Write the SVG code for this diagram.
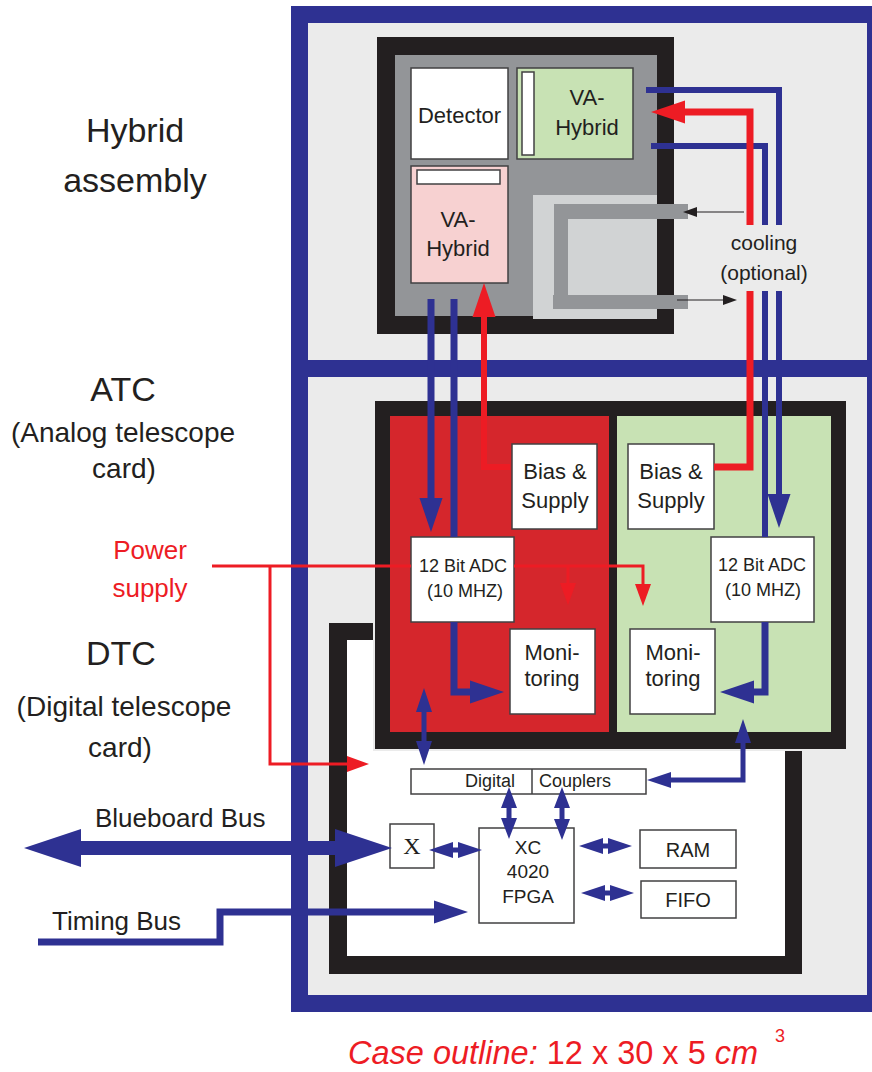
<svg xmlns="http://www.w3.org/2000/svg" width="872" height="1072" viewBox="0 0 872 1072">
<style>
text{font-family:"Liberation Sans",Arial,sans-serif;fill:#231f20}
.lbl{font-size:28px}
.big{font-size:34px}
.n{font-size:22px;text-anchor:middle}
.s{font-size:18px;text-anchor:middle}
.box{fill:#fff;stroke:#414042;stroke-width:1.5}
.blk{fill:#231f20}
.bl{fill:none;stroke:#2e3192;stroke-linejoin:miter}
.rd{fill:none;stroke:#ed1c24;stroke-linejoin:miter}
.bf{fill:#2e3192}
.red{fill:#ed1c24}
</style>
<defs>
<marker id="hb" markerUnits="userSpaceOnUse" orient="auto" refX="0" refY="11.5" markerWidth="34" markerHeight="23" overflow="visible"><path d="M0,0 L34,11.5 L0,23 z" fill="#2e3192"/></marker>
<marker id="hr" markerUnits="userSpaceOnUse" orient="auto" refX="0" refY="11.5" markerWidth="34" markerHeight="23" overflow="visible"><path d="M0,0 L34,11.5 L0,23 z" fill="#ed1c24"/></marker>
<marker id="hrs" markerUnits="userSpaceOnUse" orient="auto" refX="0" refY="8" markerWidth="22" markerHeight="16" overflow="visible"><path d="M0,0 L22,8 L0,16 z" fill="#ed1c24"/></marker>
<marker id="hbs" markerUnits="userSpaceOnUse" orient="auto" refX="0" refY="8" markerWidth="24" markerHeight="16" overflow="visible"><path d="M0,0 L24,8 L0,16 z" fill="#2e3192"/></marker>
<marker id="hk" markerUnits="userSpaceOnUse" orient="auto" refX="0" refY="5" markerWidth="14" markerHeight="10" overflow="visible"><path d="M0,0 L14,5 L0,10 z" fill="#231f20"/></marker>
</defs>
<rect width="872" height="1072" fill="#fff"/>

<g id="case">
<rect x="291" y="6" width="600" height="1006" fill="#2e3192"/>
<rect x="308" y="23" width="559" height="972" fill="#ebebeb"/>
<rect x="291" y="360" width="600" height="17" fill="#2e3192"/>
</g>

<g id="labels">
<text class="big" x="135" y="142" text-anchor="middle" font-size="36">Hybrid</text>
<text class="big" x="135" y="192" text-anchor="middle" font-size="36">assembly</text>
<text class="big" x="123" y="401" text-anchor="middle">ATC</text>
<text class="lbl" x="123" y="442" text-anchor="middle">(Analog telescope</text>
<text class="lbl" x="124" y="478" text-anchor="middle">card)</text>
<text class="big" x="121" y="665" text-anchor="middle">DTC</text>
<text class="lbl" x="124" y="716" text-anchor="middle">(Digital telescope</text>
<text class="lbl" x="120" y="757" text-anchor="middle">card)</text>
<text x="150" y="559" text-anchor="middle" font-size="26" class="red">Power</text>
<text x="150" y="597" text-anchor="middle" font-size="26" class="red">supply</text>
<text x="95" y="827" font-size="26">Blueboard Bus</text>
<text x="52" y="930" font-size="26">Timing Bus</text>
<text x="348" y="1064" font-size="32.5" class="red"><tspan font-style="italic">Case outline:</tspan> 12 x 30 x 5 <tspan font-style="italic">cm</tspan></text>
<text x="780" y="1042" font-size="18" text-anchor="middle" class="red">3</text>
</g>

<g id="hybrid-assembly">
<rect x="377" y="37" width="297" height="297" class="blk"/>
<rect x="395" y="55" width="262" height="261" fill="#939598"/>
</g>

<g id="cooling">
<rect x="533" y="195" width="124" height="124" fill="#d1d3d4"/>
<rect x="554" y="204" width="134" height="15" fill="#939598"/>
<rect x="554" y="204" width="14" height="105" fill="#939598"/>
<rect x="553" y="295" width="135" height="14" fill="#939598"/>
<text x="764" y="250" font-size="21" text-anchor="middle">cooling</text>
<text x="764" y="280" font-size="21" text-anchor="middle">(optional)</text>
</g>

<g id="detector">
<rect x="411" y="68" width="97" height="91" class="box"/>
<text class="n" x="459.5" y="123">Detector</text>
</g>

<g id="va-hybrid-top">
<rect x="517" y="68" width="116" height="91" class="box" style="fill:#c8e2b4"/>
<rect x="522" y="72" width="12" height="83" class="box"/>
<text class="n" x="587" y="105">VA-</text>
<text class="n" x="587" y="135">Hybrid</text>
</g>

<g id="va-hybrid-bottom">
<rect x="411" y="166" width="97" height="117" class="box" style="fill:#f7d1d1"/>
<rect x="417" y="170" width="83" height="14" class="box"/>
<text class="n" x="458" y="227">VA-</text>
<text class="n" x="458" y="256">Hybrid</text>
</g>

<g id="dtc-frame">
<rect x="329" y="623" width="473" height="351" class="blk"/>
<rect x="347" y="640" width="438" height="316" fill="#fff"/>
</g>

<g id="atc-frame">
<rect x="374" y="400" width="473" height="350" class="blk" stroke="#ebebeb" stroke-width="2"/>
<rect x="390" y="416" width="219" height="316" fill="#d5262c"/>
<rect x="617" y="416" width="214" height="316" fill="#c8e2b4"/>
</g>

<g id="bias-left">
<rect x="512" y="444" width="85" height="85" class="box"/>
<text class="n" x="555" y="479">Bias &amp;</text>
<text class="n" x="555" y="508">Supply</text>
</g>
<g id="adc-left">
<rect x="411" y="537" width="103" height="85" class="box"/>
<text class="s" x="463" y="572">12 Bit ADC</text>
<text class="s" x="465" y="597">(10 MHZ)</text>
</g>
<g id="monitoring-left">
<rect x="510" y="629" width="85" height="85" class="box"/>
<text class="n" x="552" y="660">Moni-</text>
<text class="n" x="552" y="686">toring</text>
</g>
<g id="bias-right">
<rect x="628" y="444" width="86" height="85" class="box"/>
<text class="n" x="671" y="479">Bias &amp;</text>
<text class="n" x="671" y="508">Supply</text>
</g>
<g id="adc-right">
<rect x="711" y="537" width="103" height="85" class="box"/>
<text class="s" x="762" y="571">12 Bit ADC</text>
<text class="s" x="763" y="596">(10 MHZ)</text>
</g>
<g id="monitoring-right">
<rect x="630" y="629" width="85" height="85" class="box"/>
<text class="n" x="673" y="660">Moni-</text>
<text class="n" x="673" y="686">toring</text>
</g>

<g id="digital-couplers">
<rect x="411" y="769" width="235" height="25" class="box"/>
<line x1="532" y1="769" x2="532" y2="794" stroke="#414042" stroke-width="1.5"/>
<text x="490" y="787" font-size="18" text-anchor="middle">Digital</text>
<text x="575" y="787" font-size="18" text-anchor="middle">Couplers</text>
</g>
<g id="x-switch">
<rect x="390" y="824" width="44" height="44" class="box"/>
<text x="412" y="854" font-size="24" text-anchor="middle" style="font-family:'Liberation Serif',serif">X</text>
</g>
<g id="fpga">
<rect x="479" y="828" width="95" height="95" class="box"/>
<text x="528" y="854" font-size="19" text-anchor="middle">XC</text>
<text x="528" y="878" font-size="19" text-anchor="middle">4020</text>
<text x="528" y="903" font-size="19" text-anchor="middle">FPGA</text>
</g>
<g id="ram">
<rect x="640" y="830" width="96" height="38" class="box"/>
<text x="688" y="857" font-size="20" text-anchor="middle">RAM</text>
</g>
<g id="fifo">
<rect x="641" y="881" width="95" height="37" class="box"/>
<text x="688" y="907" font-size="20" text-anchor="middle">FIFO</text>
</g>

<g id="connectors">
<polyline class="bl" stroke-width="6" points="646,90 779,90 779,225"/>
<polyline class="bl" stroke-width="6" points="779,291 779,494" marker-end="url(#hb)"/>
<polyline class="bl" stroke-width="6" points="651,146 765,146 765,225"/>
<polyline class="bl" stroke-width="6" points="765,291 765,537"/>
<polyline class="bl" stroke-width="7" points="765,622 765,692 754,692" marker-end="url(#hb)"/>
<polyline class="rd" stroke-width="7" points="714,467 750,467 750,291"/>
<polyline class="rd" stroke-width="7" points="750,225 750,112 685,112" marker-end="url(#hr)"/>
<line x1="744" y1="212" x2="697" y2="212" stroke="#231f20" stroke-width="1.2" marker-end="url(#hk)"/>
<line x1="677" y1="300" x2="723" y2="300" stroke="#231f20" stroke-width="1.2" marker-end="url(#hk)"/>
<polyline class="bl" stroke-width="7" points="431,299 431,498" marker-end="url(#hb)"/>
<polyline class="bl" stroke-width="7" points="454,299 454,537"/>
<polyline class="bl" stroke-width="7" points="454,622 454,692 470,692" marker-end="url(#hb)"/>
<polyline class="rd" stroke-width="6" points="510,467 484,467 484,317" marker-end="url(#hr)"/>
<polyline class="rd" stroke-width="3" points="212,566 411,566"/>
<polyline class="rd" stroke-width="3" points="514,566 643,566 643,584" marker-end="url(#hrs)"/>
<polyline class="rd" stroke-width="3" points="568,566 568,583" marker-end="url(#hrs)"/>
<polyline class="rd" stroke-width="3" points="270,566 270,764 347,764" marker-end="url(#hrs)"/>
<polygon class="bf" points="424,688 432,712 426.5,712 426.5,741 432,741 424,765 416,741 421.5,741 421.5,712 416,712"/>
<polyline class="bl" stroke-width="5" points="743,742 743,780 671,780" marker-end="url(#hbs)"/>
<polygon class="bf" points="743,719 751,743 735,743"/>
<polygon class="bf" points="509,787 517,808 511.5,808 511.5,818 517,818 509,839 501,818 506.5,818 506.5,808 501,808"/>
<polygon class="bf" points="562,787 570,808 564.5,808 564.5,819 570,819 562,840 554,819 559.5,819 559.5,808 554,808"/>
<polygon class="bf" points="429,850 453,842 453,847.5 458,847.5 458,842 482,850 458,858 458,852.5 453,852.5 453,858"/>
<polygon class="bf" points="579,846 603,838 603,843.5 608,843.5 608,838 632,846 608,854 608,848.5 603,848.5 603,854"/>
<polygon class="bf" points="581,893 605,885 605,890.5 610,890.5 610,885 634,893 610,901 610,895.5 605,895.5 605,901"/>
<polygon class="bf" points="24,848 81,829 81,841 335,841 335,829 392,848 335,867 335,855 81,855 81,867"/>
<polyline class="bl" stroke-width="7" points="38,942 220,942 220,912 434,912" marker-end="url(#hb)"/>
</g>
</svg>
